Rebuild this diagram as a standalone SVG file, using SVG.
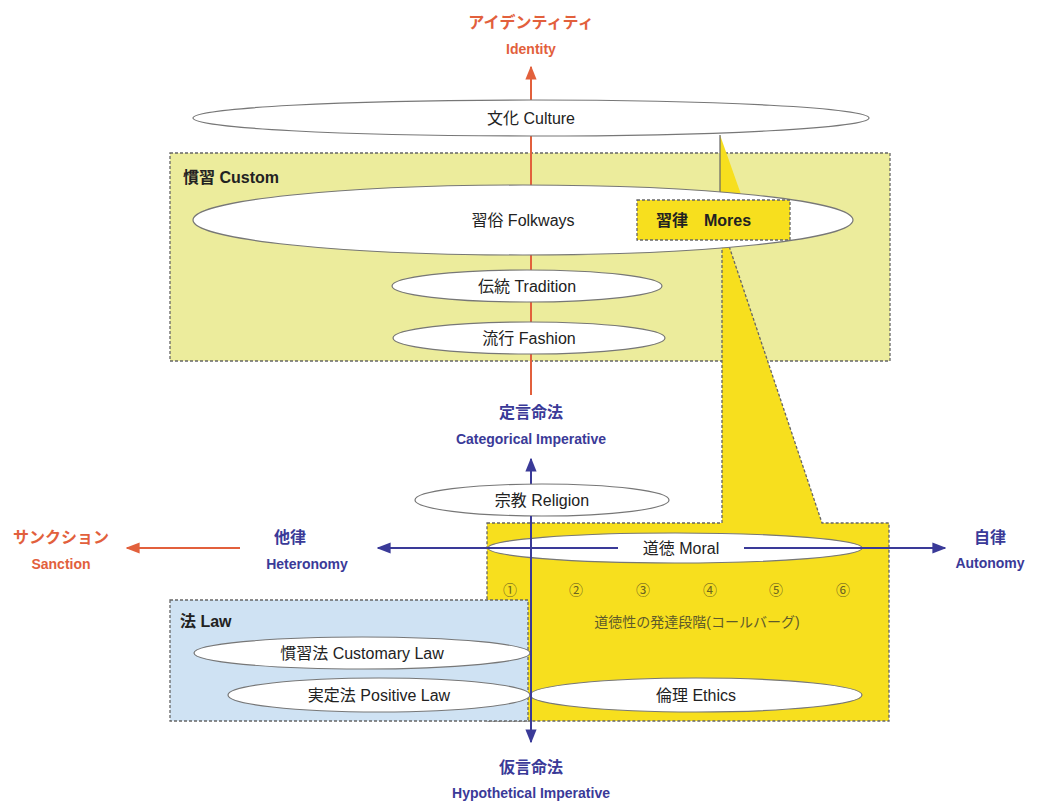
<svg xmlns="http://www.w3.org/2000/svg" width="1041" height="803" viewBox="0 0 1041 803">
<style>
text{font-family:"Liberation Sans","Noto Sans CJK JP",sans-serif;}
.el{fill:#fff;stroke:#777;stroke-width:1.2;}
.lb{font-size:16px;fill:#222;text-anchor:middle;}
.red{fill:#e2603c;font-weight:bold;text-anchor:middle;}
.blu{fill:#3a3a98;font-weight:bold;text-anchor:middle;}
.dash{stroke:#666;stroke-width:1.3;stroke-dasharray:3,2;}
.num{font-size:14px;fill:#6b6320;text-anchor:middle;}
</style>
<defs>
<marker id="ar" viewBox="0 0 10 10" refX="9" refY="5" markerWidth="7" markerHeight="7" orient="auto-start-reverse"><path d="M0,1 L10,5 L0,9 z" fill="#e2603c"/></marker>
<marker id="ab" viewBox="0 0 10 10" refX="9" refY="5" markerWidth="7" markerHeight="7" orient="auto-start-reverse"><path d="M0,1 L10,5 L0,9 z" fill="#3a3a98"/></marker>
</defs>
<rect width="1041" height="803" fill="#fff"/>
<g id="custom">
<rect x="170" y="153" width="720" height="208" fill="#ecec9c" class="dash"/>
<text x="183" y="183" font-size="16" font-weight="bold" fill="#222">慣習 Custom</text>
</g>
<g id="moral-area">
<polygon points="487,523 722,523 722,243 728,243 822,523 889,523 889,721 487,721" fill="#f7df1e" class="dash"/>
</g>
<g id="callout-top">
<polygon points="720,135 720,200 743,200" fill="#f7df1e"/>
<line x1="720" y1="135" x2="720" y2="200" stroke="#666" stroke-width="1.2"/>
</g>
<g id="law">
<rect x="170" y="600" width="358" height="121" fill="#cfe2f3" class="dash"/>
<text x="180" y="627" font-size="16" font-weight="bold" fill="#222">法 Law</text>
</g>
<g id="connectors">
<line x1="531" y1="395" x2="531" y2="67" stroke="#e2603c" stroke-width="2" marker-end="url(#ar)"/>
<line x1="531" y1="485" x2="531" y2="459" stroke="#3a3a98" stroke-width="2" marker-end="url(#ab)"/>
<line x1="240" y1="548" x2="127" y2="548" stroke="#e2603c" stroke-width="2" marker-end="url(#ar)"/>
</g>
<g id="culture"><ellipse cx="531" cy="118" rx="338" ry="18" class="el"/><text x="531" y="124" class="lb">文化 Culture</text></g>
<g id="folkways"><ellipse cx="523" cy="220" rx="330" ry="35" class="el"/><text x="523" y="226" class="lb">習俗 Folkways</text></g>
<g id="mores"><rect x="637" y="200" width="153" height="40" fill="#f7df1e" class="dash"/><text y="226" font-size="16" font-weight="bold" fill="#222"><tspan x="656">習律</tspan><tspan x="704">Mores</tspan></text></g>
<g id="tradition"><ellipse cx="527" cy="286" rx="135" ry="16" class="el"/><text x="527" y="292" class="lb">伝統 Tradition</text></g>
<g id="fashion"><ellipse cx="529" cy="338" rx="136" ry="16" class="el"/><text x="529" y="344" class="lb">流行 Fashion</text></g>
<g id="religion"><ellipse cx="542" cy="500" rx="127" ry="16" class="el"/><text x="542" y="506" class="lb">宗教 Religion</text></g>
<g id="moral"><ellipse cx="675" cy="548" rx="187" ry="15" class="el"/></g>
<g id="customary-law"><ellipse cx="362" cy="653" rx="168" ry="16" class="el"/><text x="362" y="659" class="lb">慣習法 Customary Law</text></g>
<g id="positive-law"><ellipse cx="379" cy="695" rx="151" ry="17" class="el"/><text x="379" y="701" class="lb">実定法 Positive Law</text></g>
<g id="ethics"><ellipse cx="696" cy="695" rx="166" ry="17" class="el"/><text x="696" y="701" class="lb">倫理 Ethics</text></g>
<g id="connectors2">
<line x1="531" y1="516" x2="531" y2="742" stroke="#3a3a98" stroke-width="2" marker-end="url(#ab)"/>
<line x1="378" y1="548" x2="945" y2="548" stroke="#3a3a98" stroke-width="2" marker-start="url(#ab)" marker-end="url(#ab)"/>
<rect x="618" y="538" width="126" height="20" fill="#fff"/>
<text x="681" y="554" class="lb">道徳 Moral</text>
</g>
<g id="labels">
<text x="531" y="28" class="red" font-size="16">アイデンティティ</text>
<text x="531" y="54" class="red" font-size="14">Identity</text>
<text x="531" y="418" class="blu" font-size="16">定言命法</text>
<text x="531" y="444" class="blu" font-size="14">Categorical Imperative</text>
<text x="61" y="543" class="red" font-size="16">サンクション</text>
<text x="61" y="569" class="red" font-size="14">Sanction</text>
<text x="290" y="543" class="blu" font-size="16">他律</text>
<text x="307" y="569" class="blu" font-size="14">Heteronomy</text>
<text x="990" y="543" class="blu" font-size="16">自律</text>
<text x="990" y="568" class="blu" font-size="14">Autonomy</text>
<text x="531" y="773" class="blu" font-size="16">仮言命法</text>
<text x="531" y="798" class="blu" font-size="14">Hypothetical Imperative</text>
<text x="510" y="595" class="num">①</text>
<text x="576" y="595" class="num">②</text>
<text x="643" y="595" class="num">③</text>
<text x="710" y="595" class="num">④</text>
<text x="776" y="595" class="num">⑤</text>
<text x="843" y="595" class="num">⑥</text>
<text x="697" y="627" font-size="14" fill="#5e5a2a" text-anchor="middle">道徳性の発達段階(コールバーグ)</text>
</g>
</svg>
